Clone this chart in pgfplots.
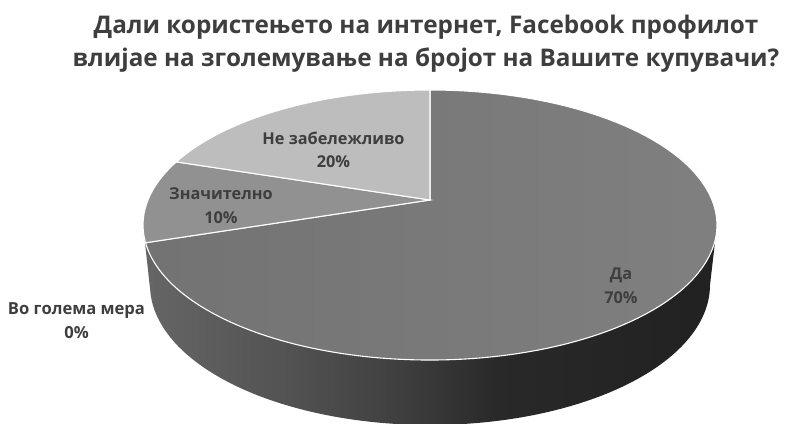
\documentclass[border=0pt]{standalone}
\usepackage{pgfplots}
\pgfplotsset{compat=1.18}
\usepackage{fontspec}
\setmainfont{Open Sans}
\definecolor{txt}{HTML}{3E3E3E}
% Horizontal light falloff along the side wall of the disc
\pgfdeclarehorizontalshading{sidewall}{100bp}{
  color(0bp)=(black!58); color(25bp)=(black!60); color(38bp)=(black!68);
  color(47bp)=(black!75); color(56bp)=(black!84); color(75bp)=(black!87); color(100bp)=(black!87)}
\begin{document}
\begin{tikzpicture}
\useasboundingbox (0,0) rectangle (787pt,423pt);
\begin{axis}[
  at={(0,0)}, anchor=south west,
  scale only axis, width=787pt, height=423pt,
  xmin=0, xmax=787, ymin=0, ymax=423, y dir=reverse,
  axis lines=none, clip=true,
  declare function={
    th(\p)=90-3.6*\p;
    wf(\p)=1+0.1852*sin(th(\p));
    px(\p)=430+282*cos(th(\p))/wf(\p);
    py(\p)=200-130.4*sin(th(\p))/wf(\p);
  },
]
% Side wall of the disc
\addplot[draw=none, shading=sidewall,
  domain=0:360, samples=181, variable=\t]
  ({\t<=180 ? 430+287*cos(\t) : 430+280*cos(360-\t)},
   {\t<=180 ? 225+135*sin(\t) : 285+140*sin(360-\t)}) -- cycle;
% Slices of the top face: start and share in percent, clockwise from the top
\addplot[draw=white, line width=1.1pt, left color=black!55, right color=black!50,
  domain=0:70, samples=160] ({px(x)},{py(x)}) -- (axis cs:430,200) -- cycle;
\addplot[draw=white, line width=1.1pt, fill=black!43,
  domain=70:80, samples=30] ({px(x)},{py(x)}) -- (axis cs:430,200) -- cycle;
\addplot[draw=white, line width=1.1pt, fill=black!26,
  domain=80:100, samples=50] ({px(x)},{py(x)}) -- (axis cs:430,200) -- cycle;
% Title and slice labels
\node[font=\fontsize{24.3}{33}\selectfont\bfseries, text=txt, align=center, inner sep=0pt, anchor=center]
  at (axis cs:426,44) {Дали користењето на интернет, Facebook профилот\\влијае на зголемување на бројот на Вашите купувачи?};
\node[font=\fontsize{16.3}{23.5}\selectfont\bfseries, text=txt, align=center, inner sep=0pt] at (axis cs:333.5,150) {Не забележливо\\20\%};
\node[font=\fontsize{16.3}{23.5}\selectfont\bfseries, text=txt, align=center, inner sep=0pt] at (axis cs:221,205.5) {Значително\\10\%};
\node[font=\fontsize{16.3}{23.5}\selectfont\bfseries, text=txt, align=center, inner sep=0pt] at (axis cs:621,286) {Да\\70\%};
\node[font=\fontsize{16.6}{23.5}\selectfont\bfseries, text=txt, align=center, inner sep=0pt] at (axis cs:76.5,320.5) {Во голема мера\\0\%};
\end{axis}
\end{tikzpicture}
\end{document}
